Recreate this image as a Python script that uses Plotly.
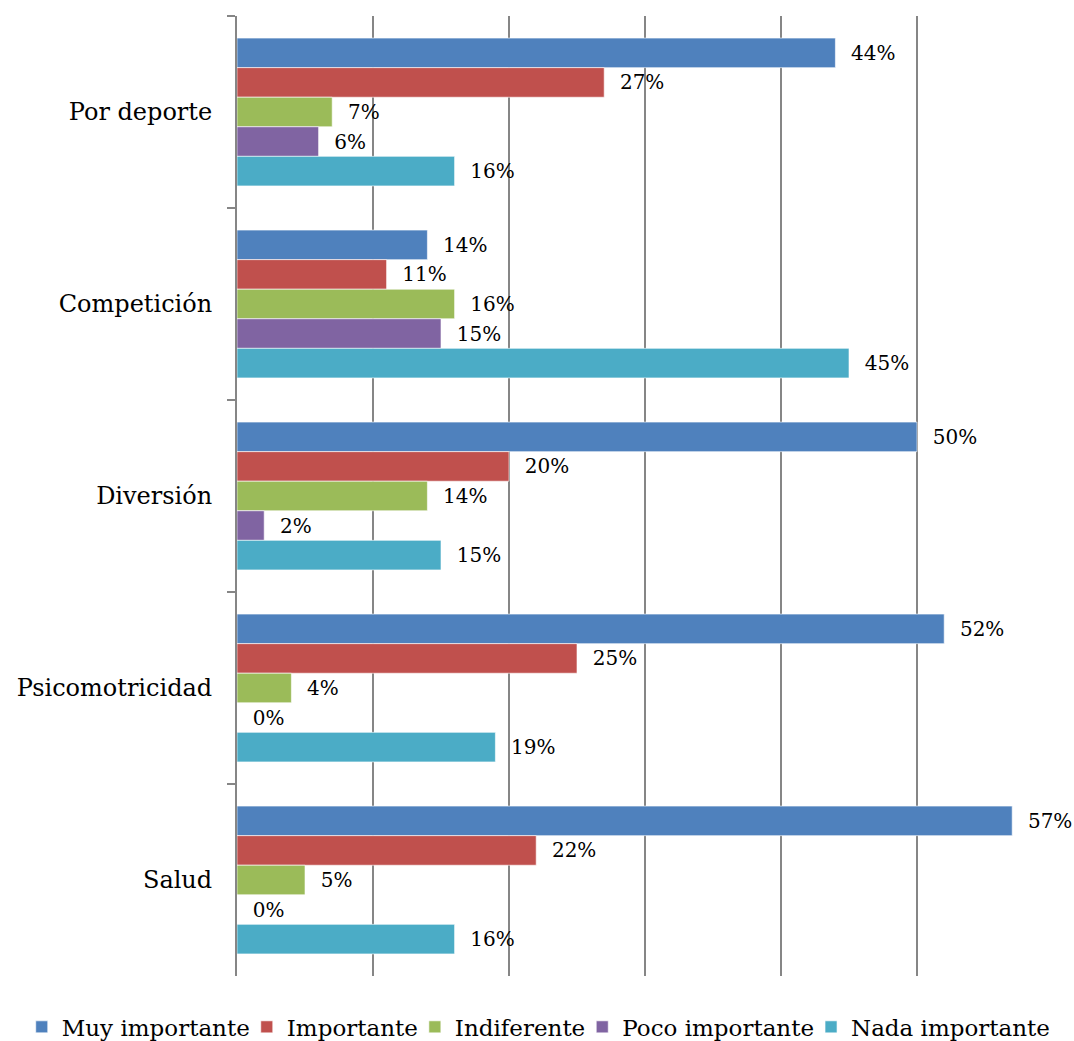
import plotly.graph_objects as go

# Reasons for practising, share of answers per importance level
categories = ["Por deporte", "Competición", "Diversión", "Psicomotricidad", "Salud"]
series_names = ["Muy importante", "Importante", "Indiferente", "Poco importante", "Nada importante"]
muy_importante = [44, 14, 50, 52, 57]
importante = [27, 11, 20, 25, 22]
indiferente = [7, 16, 14, 4, 5]
poco_importante = [6, 15, 2, 0, 0]
nada_importante = [16, 45, 15, 19, 16]
colors = ["#4F81BD", "#C0504D", "#9BBB59", "#8064A2", "#4BACC6"]

series_values = [muy_importante, importante, indiferente, poco_importante, nada_importante]

FONT = "DejaVu Serif"
GRID = "#868686"

fig = go.Figure()
for name, vals, col in zip(series_names, series_values, colors):
    fig.add_trace(go.Bar(
        y=categories,
        x=vals,
        name=name,
        orientation="h",
        marker=dict(color=col, line=dict(color="rgba(255,255,255,0.6)", width=1)),
        texttemplate="\u00a0\u00a0%{x}%",
        textposition="outside",
        textfont=dict(family=FONT, size=20, color="#000000"),
        cliponaxis=False,
        constraintext="none",
    ))

fig.update_layout(
    width=1074,
    height=1041,
    margin=dict(l=237, r=21, t=16, b=65, autoexpand=False),
    paper_bgcolor="white",
    plot_bgcolor="white",
    barmode="group",
    bargap=0.23,
    bargroupgap=0,
    font=dict(family=FONT, size=24, color="#000000"),
    legend=dict(
        orientation="h",
        xref="paper",
        yref="paper",
        x=-0.254,
        xanchor="left",
        y=-0.053,
        yanchor="middle",
        font=dict(family=FONT, size=23, color="#000000"),
        itemwidth=30,
        indentation=-8,
        traceorder="normal",
    ),
    xaxis=dict(
        range=[0, 60],
        dtick=10,
        showticklabels=False,
        showgrid=True,
        gridcolor=GRID,
        gridwidth=2,
        zeroline=False,
        showline=False,
        ticks="",
        fixedrange=True,
    ),
    yaxis=dict(
        autorange="reversed",
        showline=True,
        linecolor=GRID,
        linewidth=2,
        ticks="outside",
        tickson="boundaries",
        ticklen=8,
        tickwidth=2,
        tickcolor=GRID,
        ticklabelstandoff=18,
        tickfont=dict(family=FONT, size=24, color="#000000"),
        showgrid=False,
        fixedrange=True,
    ),
)

fig.write_html("out.html")
